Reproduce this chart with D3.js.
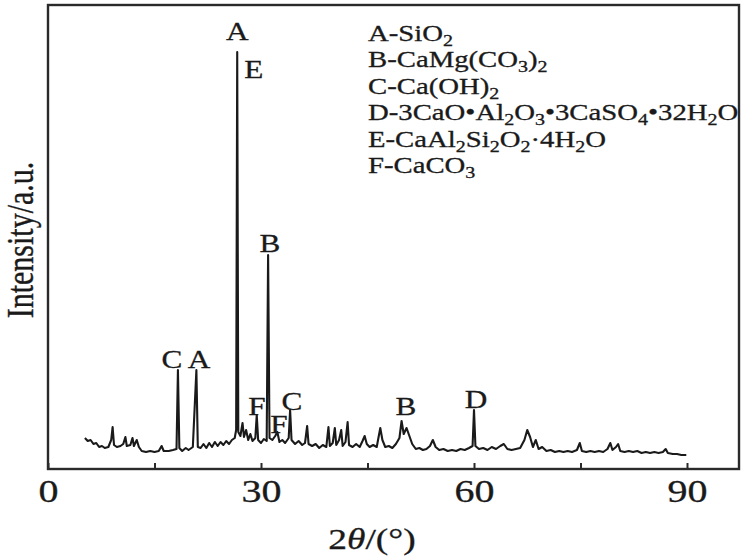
<!DOCTYPE html>
<html><head><meta charset="utf-8">
<script src="https://cdn.jsdelivr.net/npm/d3@7"></script>
<style>body{margin:0;background:#fff}</style>
</head><body><svg id="c" width="747" height="560"></svg>
<script>
// ---- data (2θ in degrees, intensity in arbitrary counts) ----
const twoTheta = [5.2,5.6,6.0,6.4,6.8,7.2,7.6,8.0,8.5,8.9,9.1,9.3,9.7,10.2,10.6,10.9,11.1,11.6,11.9,12.1,12.5,12.8,13.2,13.8,14.4,15.0,15.6,16.0,16.3,17.0,17.6,18.1,18.3,18.5,18.9,19.4,19.8,20.4,20.9,21.1,21.5,21.9,22.3,22.7,23.1,23.5,23.9,24.3,24.7,25.1,25.5,25.9,26.3,26.5,26.65,26.8,27.1,27.4,27.6,27.9,28.2,28.5,28.8,29.2,29.4,29.6,30.0,30.4,30.8,31.0,31.2,31.6,32.0,32.3,32.6,33.0,33.4,33.9,34.1,34.3,34.8,35.3,35.8,36.2,36.5,36.7,37.2,37.7,38.2,38.7,39.2,39.5,39.7,40.1,40.4,40.6,41.0,41.3,41.5,41.9,42.2,42.4,42.9,43.4,43.9,44.3,44.6,44.9,45.3,45.8,46.3,46.8,47.1,47.5,48.0,48.5,49.0,49.5,49.8,50.1,50.5,50.9,51.3,51.8,52.3,52.8,53.3,53.8,54.2,54.6,55.1,55.7,56.3,56.9,57.5,58.1,58.7,59.3,59.8,60.0,60.2,60.7,61.3,61.9,62.5,63.1,63.7,64.2,64.7,65.3,65.9,66.5,67.1,67.5,67.9,68.3,68.7,69.1,69.6,70.2,70.8,71.4,72.0,72.6,73.2,73.8,74.5,74.9,75.2,75.8,76.4,77.0,77.6,78.2,78.8,79.2,79.5,80.0,80.3,80.6,81.2,81.8,82.4,83.0,83.6,84.2,84.8,85.4,86.0,86.6,87.0,87.3,88.0,88.6,89.2,89.9];
const intensity = [310,280,290,250,260,220,230,210,220,290,420,240,220,230,250,320,230,240,310,230,290,220,180,170,180,170,180,230,180,180,190,200,990,210,180,210,190,220,990,220,210,250,210,260,220,270,230,270,240,280,250,290,310,390,4170,370,330,460,320,390,290,350,280,310,540,290,260,300,280,2140,310,290,330,370,270,290,260,310,590,290,250,280,240,260,430,250,230,250,210,240,220,420,230,260,410,240,290,390,230,270,470,240,220,250,220,280,330,250,220,240,220,410,290,220,230,210,250,310,480,350,410,330,250,200,210,190,200,230,290,220,190,200,180,190,180,200,190,210,230,590,230,200,210,190,220,200,230,250,200,190,200,210,290,390,320,220,290,200,220,180,190,170,180,170,180,170,190,260,180,170,180,170,180,170,200,260,190,220,250,180,170,180,170,180,160,170,160,170,160,170,200,160,150,150,140,140];

const xTicks = [0,15,30,45,60,75,90];
const xTickLabels = ["0","","30","","60","","90"];

const peakLabelText  = ["A","E","B","C","A","F","F","C","B","D"];
const peakLabelAngle = [26.65,29.0,31.27,17.46,21.27,29.44,32.54,34.37,50.42,60.28];
const peakLabelLevel = [4290,3910,2170,1010,1010,540,360,590,540,610];

const legendItems = ["A-SiO_2","B-CaMg(CO_3)_2","C-Ca(OH)_2","D-3CaO•Al_2O_3•3CaSO_4•32H_2O","E-CaAl_2Si_2O_2·4H_2O","F-CaCO_3"];

// ---- layout ----
const svg = d3.select("#c");
const L = 48, R = 739, T = 5, B = 469;
const SX = 1.25; // horizontal glyph stretch of the original figure
const FONT = "'Liberation Serif','Times New Roman',serif";
const ink = "#1a1a1a";

const x = d3.scaleLinear().domain([0, 90]).range([L, 687]);
const y = d3.scaleLinear().domain([0, 4640]).range([B, T]);

// frame
svg.append("rect").attr("x", L).attr("y", T).attr("width", R - L).attr("height", B - T)
  .attr("fill", "none").attr("stroke", "#2a2a2a").attr("stroke-width", 2.4);

// x axis (ticks inward)
const ax = svg.append("g").attr("transform", `translate(0,${B})`)
  .call(d3.axisBottom(x).tickValues(xTicks).tickSize(-6)
        .tickFormat((d, i) => xTickLabels[i]));
ax.select(".domain").remove();
ax.selectAll(".tick line").attr("stroke", "#2a2a2a").attr("stroke-width", 2);
ax.selectAll(".tick text").attr("y", 33).attr("dy", 0)
  .attr("font-family", FONT).attr("font-size", 32).attr("fill", ink)
  .attr("stroke", ink).attr("stroke-width", 0.3)
  .attr("transform", `scale(${SX},1)`);

// trace
const data = twoTheta.map((t, i) => [t, intensity[i]]);
svg.append("path").datum(data)
  .attr("fill", "none").attr("stroke", ink).attr("stroke-width", 2.1)
  .attr("stroke-linejoin", "round")
  .attr("d", d3.line().x(d => x(d[0])).y(d => y(d[1])));

// peak labels
peakLabelText.forEach((t, i) => {
  svg.append("text")
    .attr("transform", `translate(${x(peakLabelAngle[i])},${y(peakLabelLevel[i])}) scale(${SX},1)`)
    .attr("text-anchor", "middle").attr("font-family", FONT).attr("font-size", 25)
    .attr("fill", ink).attr("stroke", ink).attr("stroke-width", 0.3).text(t);
});

// legend
legendItems.forEach((s, i) => {
  const tx = svg.append("text")
    .attr("transform", `translate(368,${41 + i * 26.4}) scale(${SX},1)`)
    .attr("font-family", FONT).attr("font-size", 23).attr("fill", ink)
    .attr("stroke", ink).attr("stroke-width", 0.3);
  const parts = s.split(/_(\d)/);
  let lowered = false;
  parts.forEach((p, j) => {
    if (!p) return;
    if (j % 2 === 1) {
      tx.append("tspan").attr("font-size", 16).attr("dy", 5).text(p);
      lowered = true;
    } else {
      tx.append("tspan").attr("dy", lowered ? -5 : 0).text(p);
      lowered = false;
    }
  });
});

// axis titles
const xt = svg.append("text")
  .attr("transform", `translate(372,549) scale(${SX},1)`)
  .attr("text-anchor", "middle").attr("font-family", FONT).attr("font-size", 30).attr("fill", ink)
  .attr("stroke", ink).attr("stroke-width", 0.3);
xt.append("tspan").text("2");
xt.append("tspan").attr("font-style", "italic").text("θ");
xt.append("tspan").text("/(°)");

svg.append("text")
  .attr("transform", `translate(33,240) scale(${SX},1) rotate(-90)`)
  .attr("text-anchor", "middle").attr("font-family", FONT).attr("font-size", 30).attr("fill", ink)
  .attr("stroke", ink).attr("stroke-width", 0.3)
  .text("Intensity/a.u.");
</script>
</body></html>
